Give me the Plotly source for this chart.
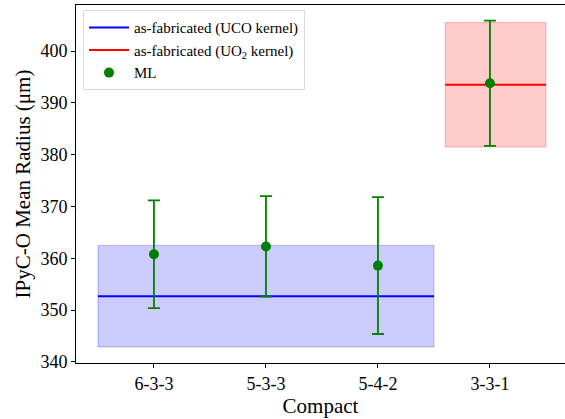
import plotly.graph_objects as go

compacts = ["6-3-3", "5-3-3", "5-4-2", "3-3-1"]
ml_mean = [360.8, 362.3, 358.6, 393.8]
ml_err = [10.4, 9.7, 13.2, 12.1]

uco_mean = 352.7
uco_std = 9.8
uco_x = [-0.5, 2.5]

uo2_mean = 393.5
uo2_std = 12.0
uo2_x = [2.6, 3.5]

yticks = [340, 350, 360, 370, 380, 390, 400]

FONT = "Liberation Serif"
fig = go.Figure()

def band(xs, mean, std, fill, edge):
    fig.add_trace(go.Scatter(
        x=[xs[0], xs[1], xs[1], xs[0], xs[0]],
        y=[mean - std, mean - std, mean + std, mean + std, mean - std],
        fill="toself", fillcolor=fill, mode="lines",
        line=dict(color=edge, width=1), showlegend=False, hoverinfo="skip"))

band(uco_x, uco_mean, uco_std, "rgba(0,0,255,0.2)", "rgba(0,0,255,0.25)")
band(uo2_x, uo2_mean, uo2_std, "rgba(255,0,0,0.2)", "rgba(255,0,0,0.25)")

fig.add_trace(go.Scatter(x=uco_x, y=[uco_mean, uco_mean], mode="lines",
                         line=dict(color="blue", width=2),
                         name="as-fabricated (UCO kernel)"))
fig.add_trace(go.Scatter(x=uo2_x, y=[uo2_mean, uo2_mean], mode="lines",
                         line=dict(color="red", width=2),
                         name="as-fabricated (UO<sub>2</sub> kernel)"))
fig.add_trace(go.Scatter(x=list(range(len(compacts))), y=ml_mean, mode="markers",
                         marker=dict(color="green", size=10),
                         error_y=dict(type="data", array=ml_err, color="green",
                                      thickness=1.8, width=6),
                         name="ML"))

fig.update_layout(
    width=565, height=419,
    margin=dict(l=76, r=0, t=5, b=56),
    plot_bgcolor="white", paper_bgcolor="white",
    font=dict(family=FONT, size=18, color="black"),
    legend=dict(x=0.0143, y=0.985, xanchor="left", yanchor="top",
                bordercolor="#d9d9d9", borderwidth=1, bgcolor="rgba(255,255,255,0.8)",
                font=dict(size=15, family=FONT, color="black"), tracegroupgap=0,
                itemwidth=40),
    xaxis=dict(range=[-0.696, 3.67], tickvals=list(range(len(compacts))),
               ticktext=compacts, showgrid=False, zeroline=False,
               showline=True, linecolor="black", linewidth=1, mirror=True,
               ticks="outside", ticklen=4, tickcolor="black",
               tickfont=dict(family=FONT, size=18, color="black"),
               title=dict(text="Compact", font=dict(family=FONT, size=21), standoff=2)),
    yaxis=dict(range=[339.8, 408.9], tickvals=yticks, showgrid=False, zeroline=False,
               showline=True, linecolor="black", linewidth=1,
               ticks="outside", ticklen=4, tickcolor="black",
               tickfont=dict(family=FONT, size=18, color="black"),
               title=dict(text="IPyC-O Mean Radius (μm)", font=dict(family=FONT, size=21), standoff=4)),
)

fig.write_html("out.html")
